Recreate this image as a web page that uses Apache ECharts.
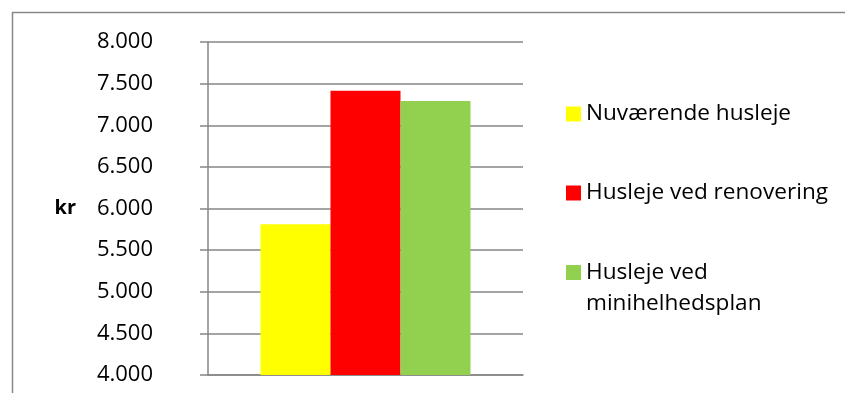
<!DOCTYPE html>
<html>
<head>
<meta charset="utf-8">
<script src="https://cdn.jsdelivr.net/npm/echarts@6/dist/echarts.min.js"></script>
<style>
  html, body { margin: 0; padding: 0; background: #fff; }
  #chart { width: 845px; height: 393px; }
</style>
</head>
<body>
<div id="chart"></div>
<script>
  var categories = [''];
  var seriesNames = ['Nuværende husleje', 'Husleje ved renovering', 'Husleje ved minihelhedsplan'];
  var seriesValues = [5810, 7415, 7290];
  var yMin = 4000;
  var yMax = 8000;
  var yStep = 500;

  var colors = ['#FFFF00', '#FF0000', '#92D050'];
  var gridColor = '#868686';
  var font = '"Open Sans", "Liberation Sans", sans-serif';

  var series = [];
  seriesNames.forEach(function (name, i) {
    series.push({
      name: name,
      type: 'bar',
      barWidth: 70,
      barGap: '0%',
      itemStyle: { color: colors[i] },
      data: [seriesValues[i]]
    });
  });

  var legendText = { fontFamily: font, fontSize: 22.6, color: '#000', lineHeight: 31 };

  var myChart = echarts.init(document.getElementById('chart'));
  var option = {
    animation: false,
    textStyle: { fontFamily: font },
    graphic: [{
      type: 'rect',
      silent: true,
      shape: { x: 12.5, y: 12.5, width: 1000, height: 1000 },
      style: { fill: 'none', stroke: '#878787', lineWidth: 1.5 }
    }],
    grid: { left: 208, right: 322, top: 42, bottom: 18 },
    legend: [{
      // first two items
      orient: 'vertical',
      left: 566,
      top: 98.5,
      padding: 0,
      itemGap: 48,
      itemWidth: 15,
      itemHeight: 15,
      icon: 'rect',
      textStyle: legendText,
      data: [seriesNames[0], seriesNames[1]]
    }, {
      // third item wraps to two lines, marker sits by the first line
      // (empty first line keeps the marker centred on "Husleje ved")
      orient: 'vertical',
      left: 566,
      top: 226,
      padding: 0,
      itemWidth: 15,
      itemHeight: 15,
      icon: 'rect',
      textStyle: legendText,
      formatter: function (name) {
        return '\n' + name.replace('ved ', 'ved\n');
      },
      data: [seriesNames[2]]
    }],
    xAxis: {
      type: 'category',
      data: categories,
      axisLine: { show: true, lineStyle: { color: gridColor, width: 1.5 } },
      axisTick: { show: false },
      axisLabel: { show: false }
    },
    yAxis: {
      type: 'value',
      min: yMin,
      max: yMax,
      interval: yStep,
      name: 'kr',
      nameLocation: 'middle',
      nameRotate: 0,
      nameGap: 132,
      nameTextStyle: { fontFamily: font, fontSize: 20, fontWeight: 'bold', color: '#000' },
      axisLine: { show: true, lineStyle: { color: gridColor, width: 1.5 } },
      axisTick: { show: true, inside: false, length: 8, lineStyle: { color: gridColor, width: 1.5 } },
      axisLabel: {
        margin: 55,
        fontFamily: font,
        fontSize: 22,
        color: '#000',
        formatter: function (v) {
          return (v / 1000).toFixed(3);
        }
      },
      splitLine: { show: true, lineStyle: { color: gridColor, width: 1.5 } }
    },
    series: series
  };
  myChart.setOption(option);
</script>
</body>
</html>
